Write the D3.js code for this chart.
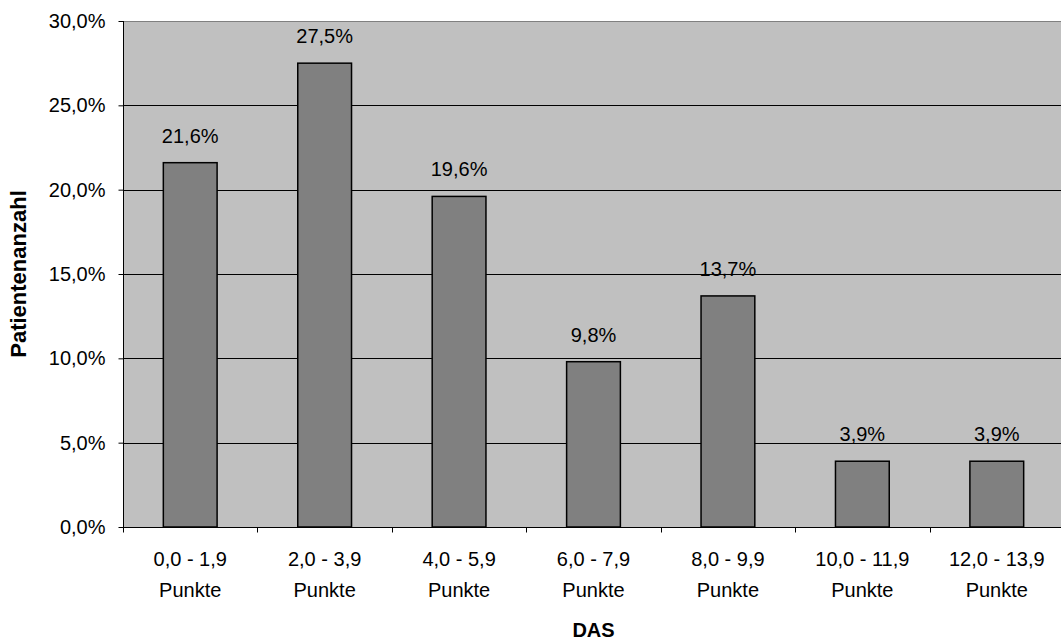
<!DOCTYPE html>
<html>
<head>
<meta charset="utf-8">
<script src="https://cdn.jsdelivr.net/npm/d3@7"></script>
<style>
  html, body { margin: 0; padding: 0; background: #fff; }
  svg { display: block; font-family: "Liberation Sans", Arial, sans-serif; }
</style>
</head>
<body>
<svg id="chart" width="1061" height="641"></svg>
<script>
// DAS score ranges and share of patients (%)
const categories = ["0,0 - 1,9", "2,0 - 3,9", "4,0 - 5,9", "6,0 - 7,9", "8,0 - 9,9", "10,0 - 11,9", "12,0 - 13,9"];
const categorySuffix = "Punkte";
const shares = [21.6, 27.5, 19.6, 9.8, 13.7, 3.9, 3.9];
const yTicks = [0, 5, 10, 15, 20, 25, 30];

const svg = d3.select("#chart");
const plot = { left: 123, right: 1064, top: 21, bottom: 527 };
const fmt = v => v.toFixed(1).replace(".", ",") + "%";
const FONT = "Liberation Sans, Arial, sans-serif";

const x = d3.scaleBand().domain(categories).range([plot.left, plot.right])
  .paddingInner(0.6).paddingOuter(0.3);
const y = d3.scaleLinear().domain([0, 30]).range([plot.bottom, plot.top]);

// plot background
svg.append("rect")
  .attr("x", plot.left).attr("y", plot.top)
  .attr("width", plot.right - plot.left).attr("height", plot.bottom - plot.top)
  .attr("fill", "#c0c0c0");

// top border of the plot area
svg.append("line")
  .attr("x1", plot.left).attr("x2", plot.right)
  .attr("y1", plot.top + 0.5).attr("y2", plot.top + 0.5)
  .attr("stroke", "#808080").attr("stroke-width", 1);

// horizontal gridlines
svg.append("g").selectAll("line")
  .data(yTicks.filter(t => t > 0 && t < 30))
  .join("line")
  .attr("x1", plot.left).attr("x2", plot.right)
  .attr("y1", d => Math.round(y(d)) + 0.5).attr("y2", d => Math.round(y(d)) + 0.5)
  .attr("stroke", "#000").attr("stroke-width", 1);

// bars
svg.append("g").selectAll("rect")
  .data(shares)
  .join("rect")
  .attr("x", (d, i) => x(categories[i]))
  .attr("y", d => y(d))
  .attr("width", x.bandwidth())
  .attr("height", d => plot.bottom - y(d))
  .attr("fill", "#808080")
  .attr("stroke", "#000").attr("stroke-width", 1.5);

// value labels
svg.append("g").selectAll("text")
  .data(shares)
  .join("text")
  .attr("x", (d, i) => x(categories[i]) + x.bandwidth() / 2)
  .attr("y", d => y(d) - 20)
  .attr("text-anchor", "middle")
  .attr("font-size", 20)
  .attr("fill", "#000")
  .text(d => fmt(d));

// y axis
const yAxis = svg.append("g")
  .attr("transform", `translate(${plot.left + 0.5},0)`)
  .call(d3.axisLeft(y).tickValues(yTicks).tickSize(5).tickPadding(13).tickFormat(fmt));
yAxis.select(".domain").attr("stroke", "#000").attr("d", `M0,${plot.top}V${plot.bottom}`);
yAxis.selectAll(".tick line").attr("stroke", "#000");
yAxis.selectAll(".tick text")
  .attr("font-size", 20).attr("font-family", FONT).attr("fill", "#000");

// x axis with ticks between categories
const xAxisG = svg.append("g").attr("transform", `translate(0,${plot.bottom + 0.5})`);
xAxisG.append("line")
  .attr("x1", plot.left).attr("x2", plot.right)
  .attr("stroke", "#000").attr("stroke-width", 1);
const step = x.step();
xAxisG.selectAll("line.sep")
  .data(d3.range(categories.length + 1))
  .join("line").attr("class", "sep")
  .attr("x1", i => Math.round(plot.left + i * step) + 0.5)
  .attr("x2", i => Math.round(plot.left + i * step) + 0.5)
  .attr("y1", 0).attr("y2", 5)
  .attr("stroke", "#000");
const labels = xAxisG.selectAll("text.cat")
  .data(categories)
  .join("text").attr("class", "cat")
  .attr("text-anchor", "middle")
  .attr("font-size", 20).attr("fill", "#000");
labels.append("tspan")
  .attr("x", d => x(d) + x.bandwidth() / 2).attr("y", 38)
  .text(d => d);
labels.append("tspan")
  .attr("x", d => x(d) + x.bandwidth() / 2).attr("y", 69)
  .text(categorySuffix);

// axis titles
svg.append("text")
  .attr("x", (plot.left + plot.right) / 2).attr("y", 637)
  .attr("text-anchor", "middle")
  .attr("font-size", 20).attr("font-weight", "bold")
  .text("DAS");
svg.append("text")
  .attr("transform", `translate(26,${(plot.top + plot.bottom) / 2}) rotate(-90)`)
  .attr("text-anchor", "middle")
  .attr("font-size", 22).attr("font-weight", "bold")
  .text("Patientenanzahl");
</script>
</body>
</html>
